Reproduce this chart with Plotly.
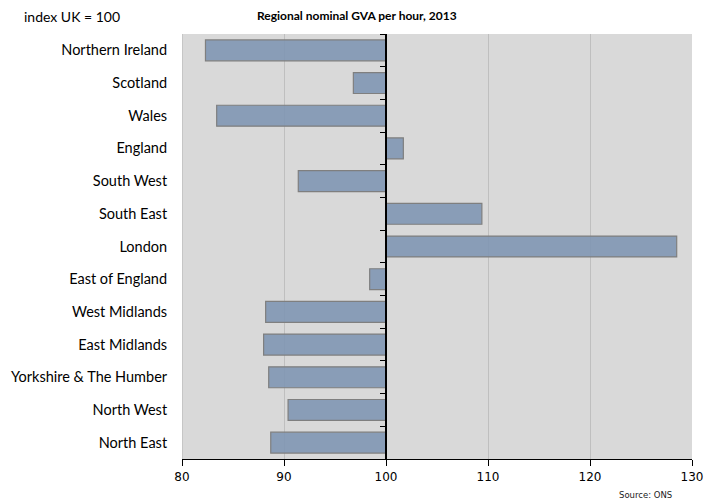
import plotly.graph_objects as go

regions = ["Northern Ireland", "Scotland", "Wales", "England", "South West",
           "South East", "London", "East of England", "West Midlands",
           "East Midlands", "Yorkshire & The Humber", "North West", "North East"]
index_values = [82.3, 96.8, 83.4, 101.7, 91.4, 109.4, 128.5, 98.4, 88.2, 88.0, 88.5, 90.4, 88.7]
base_value = 100
x_ticks = [80, 90, 100, 110, 120, 130]

deltas = [v - base_value for v in index_values]

fig = go.Figure()
fig.add_trace(go.Bar(
    y=regions, x=deltas, base=base_value, orientation="h", width=0.64,
    marker=dict(color="rgba(127,150,179,0.9)", line=dict(color="#7f7f7f", width=1.2)),
    showlegend=False,
))
# invisible trace to drive the crossing axis at 100
fig.add_trace(go.Scatter(y=regions, x=[base_value]*len(regions), yaxis="y2",
                         mode="markers", marker=dict(opacity=0), showlegend=False,
                         hoverinfo="skip"))

n = len(regions)
L, R, T, B = 182, 24, 34, 44
fig.update_layout(
    width=716, height=503,
    margin=dict(l=L, r=R, t=T, b=B, autoexpand=False),
    paper_bgcolor="white", plot_bgcolor="#d9d9d9",
    font=dict(family="Lato, Open Sans, sans-serif", size=13, color="#000"),
    xaxis=dict(range=[80, 130], tickvals=x_ticks, showgrid=True, gridcolor="#bfbfbf",
               gridwidth=1, zeroline=False, showline=True, linecolor="#000", linewidth=1.2,
               ticks="outside", ticklen=6, tickcolor="#000", automargin=False,
               tickfont=dict(family="DejaVu Sans, Verdana, sans-serif", size=12)),
    yaxis=dict(categoryorder="array", categoryarray=regions[::-1], showgrid=False,
               zeroline=False, showline=False, ticks="outside", ticklen=11,
               tickcolor="rgba(0,0,0,0)", range=[-0.5, n - 0.5], automargin=False,
               tickfont=dict(family="Lato, Open Sans, sans-serif", size=14.5)),
    yaxis2=dict(overlaying="y", anchor="free", position=0.4, range=[-0.5, n - 0.5],
                tickvals=[i + 0.5 for i in range(-1, n)], showticklabels=False,
                ticks="outside", ticklen=5, tickcolor="#000", showline=True,
                linecolor="#000", linewidth=1.5, showgrid=False, zeroline=False,
                automargin=False),
)
pw, ph = 716 - L - R, 503 - T - B
def px(x):
    return (x - L) / pw
def py(y):
    return 1 - (y - T) / ph
fig.add_annotation(text="<b>Regional nominal GVA per hour, 2013</b>", x=px(357), y=py(15),
                   xref="paper", yref="paper", showarrow=False, xanchor="center", yanchor="middle",
                   font=dict(size=12, family="Lato, Open Sans, sans-serif"))
fig.add_annotation(text="index UK = 100", x=px(22), y=py(17), xref="paper", yref="paper",
                   showarrow=False, xanchor="left", yanchor="middle", font=dict(size=14))
fig.add_annotation(text="Source: ONS", x=px(674), y=py(495), xref="paper", yref="paper",
                   showarrow=False, xanchor="right", yanchor="middle",
                   font=dict(size=8.5, family="DejaVu Sans, Verdana, sans-serif", color="#222"))
# left border line at 80
fig.add_vline(x=80, line=dict(color="#bfbfbf", width=1.5))

fig.write_html("out.html", config={"displayModeBar": False},
               post_script="document.body.style.margin='0';")
